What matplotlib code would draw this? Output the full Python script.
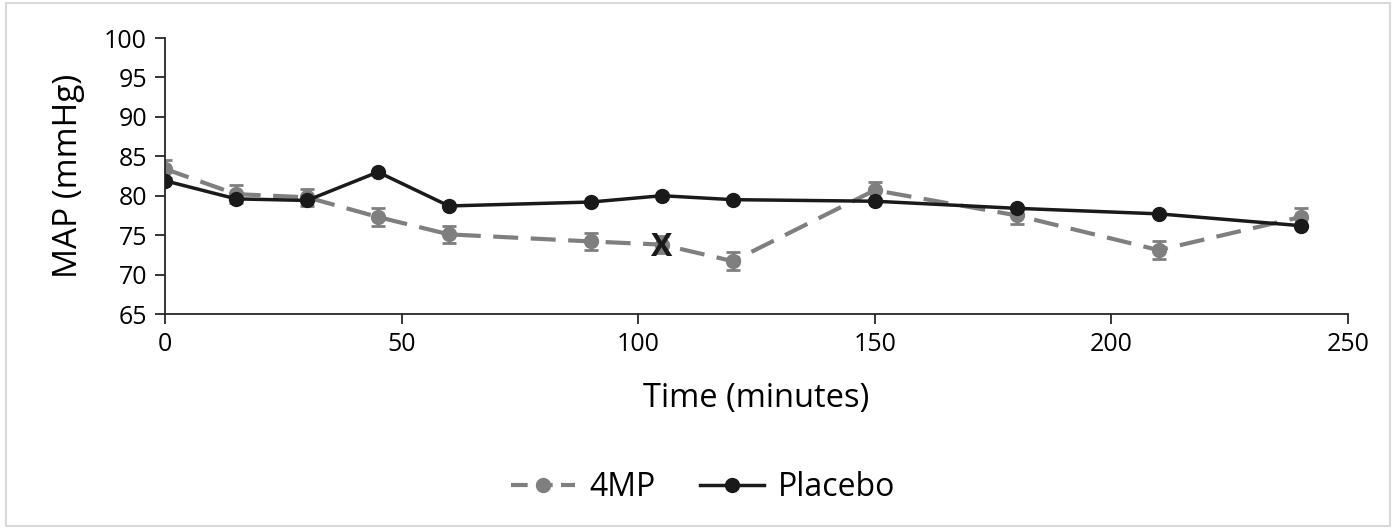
import matplotlib.pyplot as plt
from matplotlib.patches import Rectangle
from matplotlib.lines import Line2D

plt.rcParams["font.family"] = ["Open Sans", "DejaVu Sans"]

# Data
time_min = [0, 15, 30, 45, 60, 90, 105, 120, 150, 180, 210, 240]
map_4mp = [83.4, 80.2, 79.8, 77.3, 75.1, 74.2, 73.8, 71.7, 80.7, 77.5, 73.1, 77.3]
err_4mp = [1.1, 1.1, 1.1, 1.1, 1.1, 1.1, 1.1, 1.1, 1.1, 1.1, 1.1, 1.1]
map_placebo = [81.9, 79.6, 79.4, 83.0, 78.7, 79.2, 80.0, 79.5, 79.3, 78.4, 77.7, 76.2]
xticks = [0, 50, 100, 150, 200, 250]
yticks = [65, 70, 75, 80, 85, 90, 95, 100]

fig = plt.figure(figsize=(13.96, 5.29), dpi=100)
ax = fig.add_axes([165 / 1396, 1 - 314 / 529, (1348 - 165) / 1396, (314 - 38) / 529])

fig.patches.append(Rectangle((0.004, 0.006), 0.992, 0.988, transform=fig.transFigure,
                             fill=False, edgecolor="#d9d9d9", linewidth=1.5))

ax.errorbar(time_min, map_4mp, yerr=err_4mp, color="#7f7f7f", linestyle=(0, (6, 3)),
            linewidth=3, marker="o", markersize=10, capsize=5, elinewidth=2,
            capthick=2, zorder=2)
ax.plot(time_min, map_placebo, color="#1a1a1a", linewidth=2.5, marker="o",
        markersize=10, zorder=3)

ax.text(105, 73.4, "X", fontsize=23, fontweight="bold", ha="center", va="center",
        color="#1a1a1a", zorder=4)

ax.set_xlim(0, 250)
ax.set_ylim(65, 100)
ax.set_xticks(xticks)
ax.set_yticks(yticks)
ax.tick_params(labelsize=18, length=7, width=1.3, color="#262626", direction="out", pad=6)
for side in ("top", "right"):
    ax.spines[side].set_visible(False)
for side in ("left", "bottom"):
    ax.spines[side].set_linewidth(1.3)
    ax.spines[side].set_color("#262626")

ax.set_xlabel("Time (minutes)", fontsize=23.5, labelpad=18)
ax.set_ylabel("MAP (mmHg)", fontsize=24, labelpad=14)

handles = [
    Line2D([], [], color="#7f7f7f", linestyle=(0, (4, 2)), linewidth=3, marker="o", markersize=10),
    Line2D([], [], color="#1a1a1a", linewidth=2.5, marker="o", markersize=10),
]
ax.legend(handles, ["4MP", "Placebo"], loc="center", bbox_to_anchor=(0.455, -0.63),
          ncol=2, frameon=False, fontsize=23, handlelength=2.0, columnspacing=1.4,
          handletextpad=0.45)

fig.savefig("out.png", dpi=100)
